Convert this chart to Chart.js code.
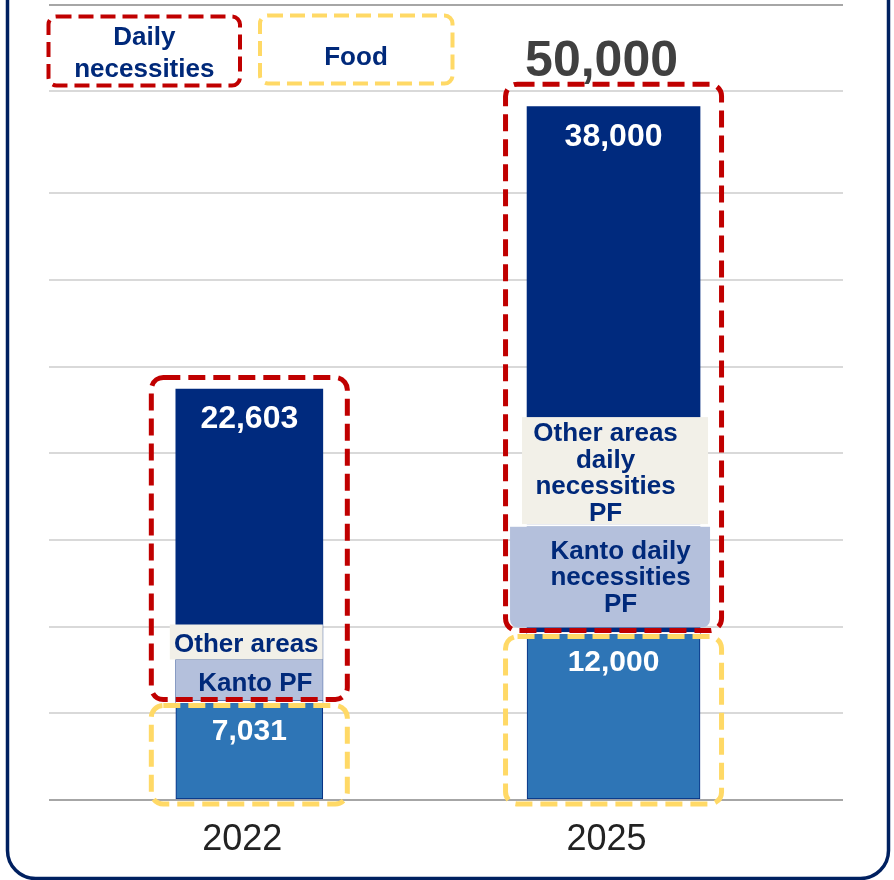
<!DOCTYPE html>
<html>
<head>
<meta charset="utf-8">
<title>Daily necessities and food</title>
<script src="https://cdn.jsdelivr.net/npm/chart.js@4"></script>
<style>
  html, body { margin: 0; padding: 0; background: #ffffff; }
  #wrap { width: 894px; height: 880px; position: relative; }
</style>
</head>
<body>
<div id="wrap"><canvas id="c"></canvas></div>
<script>
// ---- data ----
const years = [2022, 2025];
const seriesNames = ['Food', 'Daily necessities'];
const foodValues = [7031, 12000];
const dailyValues = [22603, 38000];
const kantoLabels = ['Kanto PF', 'Kanto daily\nnecessities\nPF'];
const otherLabels = ['Other areas', 'Other areas\ndaily\nnecessities\nPF'];
const totalShown = [false, true];
const gridValues = [0, 6250, 12500, 18750, 25000, 31250, 37500, 43750, 51130, 57330];

// ---- style ----
const FONT = '"Liberation Sans", Arial, Helvetica, sans-serif';
const NAVY = '#002A7E';
const NAVY_TEXT = '#00297A';
const FOOD_BLUE = '#2E75B6';
const KANTO_FILL = '#B4C0DC';
const OTHER_FILL = '#F2F0E8';
const RED = '#C00000';
const YELLOW = '#FFD966';
const FRAME = '#002060';

const barWidths = [147, 173];
const ringPad = [{ x: 24.5, top: 11.5 }, { x: 21.5, top: 22.5 }];
const overlayStyle = [
  {
    kanto: { l: 0, r: 0, gap: 2, h: 41, radius: 0, dx: 6, base: 31.5 },
    other: { l: -6, r: 0, gap: 0, h: 35, radius: 0, dx: -3, base: 27.5 }
  },
  {
    kanto: { l: -17, r: 10, gap: 6, h: 101, radius: 8, dx: 7, base: 32 },
    other: { l: -5, r: 8, gap: 2.5, h: 107, radius: 0, dx: -8, base: 24 }
  }
];
const LINE_H = 26.5;

const fmt = v => v.toLocaleString('en-US');

function roundedPath(ctx, x, y, w, h, r) {
  const rr = Array.isArray(r) ? r : [r, r, r, r]; // tl, tr, br, bl
  ctx.beginPath();
  ctx.moveTo(x + rr[0], y);
  ctx.lineTo(x + w - rr[1], y);
  ctx.arcTo(x + w, y, x + w, y + rr[1], rr[1]);
  ctx.lineTo(x + w, y + h - rr[2]);
  ctx.arcTo(x + w, y + h, x + w - rr[2], y + h, rr[2]);
  ctx.lineTo(x + rr[3], y + h);
  ctx.arcTo(x, y + h, x, y + h - rr[3], rr[3]);
  ctx.lineTo(x, y + rr[0]);
  ctx.arcTo(x, y, x + rr[0], y, rr[0]);
  ctx.closePath();
}

function dashedBox(ctx, x, y, w, h, r, color, width, dash) {
  ctx.save();
  ctx.strokeStyle = color;
  ctx.lineWidth = width;
  ctx.setLineDash(dash);
  roundedPath(ctx, x, y, w, h, r);
  ctx.stroke();
  ctx.restore();
}

function textLines(ctx, text, x, firstBaseline, lineH) {
  text.split('\n').forEach((line, j) => ctx.fillText(line, x, firstBaseline + j * lineH));
}

const decorations = {
  id: 'decorations',
  afterDatasetsUpdate(chart) {
    chart.data.datasets.forEach((ds, d) => {
      chart.getDatasetMeta(d).data.forEach((bar, i) => { bar.width = barWidths[i]; });
    });
  },
  beforeDraw(chart) {
    const ctx = chart.ctx;
    ctx.save();
    ctx.strokeStyle = FRAME;
    ctx.lineWidth = 3.5;
    roundedPath(ctx, 7.5, -60, 881, 938.5, 28);
    ctx.stroke();
    ctx.restore();
  },
  afterDatasetsDraw(chart) {
    const ctx = chart.ctx;
    const foodMeta = chart.getDatasetMeta(0);
    const dailyMeta = chart.getDatasetMeta(1);

    years.forEach((yr, i) => {
      const food = foodMeta.data[i];
      const daily = dailyMeta.data[i];
      const cx = daily.x;
      const half = daily.width / 2;
      const left = cx - half;
      const right = cx + half;
      const top = daily.y;
      const seam = daily.base;
      const bottom = food.base;
      const o = overlayStyle[i];

      ctx.save();
      // white seam between the two segments
      ctx.fillStyle = '#ffffff';
      ctx.fillRect(left, seam - 1.5, right - left, 2);

      // Kanto / other-area captions sitting on the bottom of the daily segment
      ctx.font = 'bold 26px ' + FONT;
      ctx.textAlign = 'center';
      ctx.textBaseline = 'alphabetic';

      const kb = seam - o.kanto.gap;
      const kt = kb - o.kanto.h;
      const kx0 = left + o.kanto.l;
      const kx1 = right + o.kanto.r;
      ctx.fillStyle = KANTO_FILL;
      roundedPath(ctx, kx0, kt, kx1 - kx0, o.kanto.h, [0, 0, o.kanto.radius, o.kanto.radius]);
      ctx.fill();
      ctx.fillStyle = NAVY_TEXT;
      textLines(ctx, kantoLabels[i], cx + o.kanto.dx, kt + o.kanto.base, LINE_H);

      const ob = kt - o.other.gap;
      const ot = ob - o.other.h;
      if (o.other.gap > 0) {
        ctx.fillStyle = '#ffffff';
        ctx.fillRect(kx0, ob, kx1 - kx0, o.other.gap);
      }
      ctx.fillStyle = OTHER_FILL;
      ctx.fillRect(left + o.other.l, ot, (right + o.other.r) - (left + o.other.l), o.other.h);
      ctx.fillStyle = NAVY_TEXT;
      textLines(ctx, otherLabels[i], cx + o.other.dx, ot + o.other.base, LINE_H);

      // segment values
      ctx.fillStyle = '#ffffff';
      ctx.font = 'bold 32px ' + FONT;
      ctx.fillText(fmt(dailyValues[i]), cx, top + 39);
      ctx.font = 'bold 30px ' + FONT;
      ctx.fillText(fmt(foodValues[i]), cx, seam + 37);

      // dashed rings: red round daily necessities, yellow round food
      const p = ringPad[i];
      const rTop = top - p.top;
      dashedBox(ctx, left - p.x, rTop, (right - left) + 2 * p.x, (seam - 3) - rTop, 12, RED, 5, [17, 8]);
      dashedBox(ctx, left - p.x, seam + 3, (right - left) + 2 * p.x, (bottom + 5) - (seam + 3), 12, YELLOW, 5, [17, 8]);

      // total above the bar
      if (totalShown[i]) {
        ctx.fillStyle = '#404040';
        ctx.font = 'bold 50px ' + FONT;
        ctx.fillText(fmt(foodValues[i] + dailyValues[i]), cx - 12, rTop - 8.5);
      }
      ctx.restore();
    });

    // key boxes, top left
    ctx.save();
    ctx.textAlign = 'center';
    ctx.textBaseline = 'alphabetic';
    ctx.font = 'bold 26px ' + FONT;
    dashedBox(ctx, 48.5, 16.5, 191.5, 69, 8, RED, 4, [15, 7]);
    ctx.fillStyle = NAVY_TEXT;
    textLines(ctx, seriesNames[1].replace(' ', '\n'), 144.3, 45, 32);
    dashedBox(ctx, 260, 15.5, 192.5, 68, 8, YELLOW, 4, [15, 7]);
    ctx.fillStyle = NAVY_TEXT;
    ctx.fillText(seriesNames[0], 356, 65);
    ctx.restore();
  }
};

Chart.defaults.font.family = FONT;

new Chart(document.getElementById('c'), {
  type: 'bar',
  data: {
    datasets: [
      {
        label: seriesNames[0],
        data: years.map((y, i) => ({ x: y, y: foodValues[i] })),
        backgroundColor: FOOD_BLUE,
        borderColor: NAVY,
        borderWidth: 1,
        borderSkipped: false,
        barThickness: 160
      },
      {
        label: seriesNames[1],
        data: years.map((y, i) => ({ x: y, y: dailyValues[i] })),
        backgroundColor: NAVY,
        borderWidth: 0,
        barThickness: 160
      }
    ]
  },
  options: {
    responsive: true,
    maintainAspectRatio: false,
    animation: false,
    events: [],
    devicePixelRatio: 1,
    layout: { padding: { left: 49, right: 51, top: 5, bottom: 0 } },
    plugins: {
      legend: { display: false },
      tooltip: { enabled: false }
    },
    scales: {
      x: {
        type: 'linear',
        stacked: true,
        offset: false,
        // padded so the two year slots sit left of centre
        min: 2020.35,
        max: 2026.89,
        grid: { display: false, drawTicks: false },
        border: { display: false },
        afterBuildTicks: s => { s.ticks = years.map(v => ({ value: v })); },
        afterFit: s => { s.height = 80; },
        ticks: {
          autoSkip: false,
          maxRotation: 0,
          padding: 18,
          labelOffset: -7,
          color: '#222222',
          font: { size: 36, family: FONT },
          callback: v => String(v)
        }
      },
      y: {
        stacked: true,
        min: 0,
        max: gridValues[gridValues.length - 1],
        border: { display: false },
        afterBuildTicks: s => { s.ticks = gridValues.map(v => ({ value: v })); },
        afterFit: s => { s.width = 0; },
        ticks: { display: false },
        grid: {
          drawTicks: false,
          lineWidth: 2,
          color: c => (c.index === 0 || c.index === gridValues.length - 1) ? '#A6A6A6' : '#D9D9D9'
        }
      }
    }
  },
  plugins: [decorations]
});
</script>
</body>
</html>
